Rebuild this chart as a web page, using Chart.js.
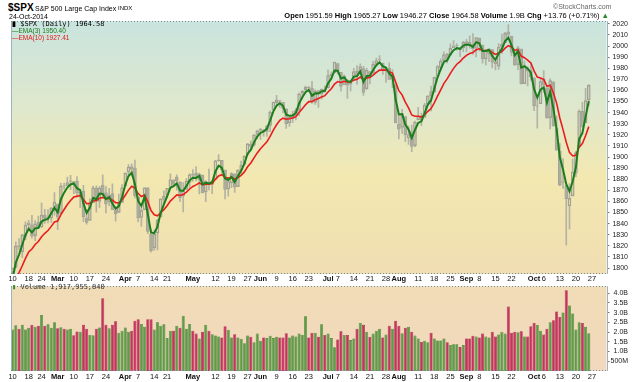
<!DOCTYPE html>
<html><head><meta charset="utf-8">
<script src="https://cdn.jsdelivr.net/npm/chart.js@4.4.0/dist/chart.umd.min.js"></script>
<style>
html,body{margin:0;padding:0;background:#fff;width:640px;height:382px;overflow:hidden;font-family:"Liberation Sans",Arial,sans-serif;}
#wrap{position:relative;width:640px;height:382px;}
canvas{position:absolute;left:0;}
.t{position:absolute;white-space:nowrap;line-height:1;}
.m{font-family:"DejaVu Sans Mono",monospace;}
</style></head><body>
<div id="wrap">
<canvas id="price" width="640" height="267" style="top:16px"></canvas>
<canvas id="vol" width="640" height="101" style="top:281px"></canvas>
<div class="t" style="left:8px;top:3px;font-size:10px;font-weight:bold;">$SPX</div>
<div class="t" style="left:35px;top:4.5px;font-size:7px;">S&amp;P 500 Large Cap Index</div>
<div class="t" style="left:118px;top:5px;font-size:6px;">INDX</div>
<div class="t" style="left:9px;top:12.5px;font-size:7px;">24-Oct-2014</div>
<div class="t" style="left:553px;top:3px;font-size:7px;color:#666;">&copy;StockCharts.com</div>
<div class="t" style="right:31px;top:12px;font-size:7.5px;"><b>Open</b> 1951.59 <b>High</b> 1965.27 <b>Low</b> 1946.27 <b>Close</b> 1964.58 <b>Volume</b> 1.9B <b>Chg</b> +13.76 (+0.71%) <span style="color:#2a8a2a">&#9650;</span></div>
<div class="t m" style="left:12px;top:20px;font-size:7px;color:#000;"><b style="font-family:'Liberation Sans'">&#9646;</b> $SPX (Daily) 1964.58</div>
<div class="t" style="left:12px;top:27.5px;font-size:6.5px;color:#1d7a1d;">&#8212;EMA(3) 1950.40</div>
<div class="t" style="left:12px;top:34.5px;font-size:6.5px;color:#e01818;">&#8212;EMA(10) 1927.41</div>
<div class="t m" style="left:12px;top:284px;font-size:7px;color:#333;"><span style="color:#3f8a2f">&#9646;</span> Volume 1,917,955,840</div>
</div>
<script>
// ---- DATA ----
const dates = ['Feb 10','Feb 11','Feb 12','Feb 13','Feb 14','Feb 18','Feb 19','Feb 20','Feb 21','Feb 24','Feb 25','Feb 26','Feb 27','Feb 28',
'Mar 3','Mar 4','Mar 5','Mar 6','Mar 7','Mar 10','Mar 11','Mar 12','Mar 13','Mar 14','Mar 17','Mar 18','Mar 19','Mar 20','Mar 21','Mar 24','Mar 25','Mar 26','Mar 27','Mar 28','Mar 31',
'Apr 1','Apr 2','Apr 3','Apr 4','Apr 7','Apr 8','Apr 9','Apr 10','Apr 11','Apr 14','Apr 15','Apr 16','Apr 17','Apr 21','Apr 22','Apr 23','Apr 24','Apr 25','Apr 28','Apr 29','Apr 30',
'May 1','May 2','May 5','May 6','May 7','May 8','May 9','May 12','May 13','May 14','May 15','May 16','May 19','May 20','May 21','May 22','May 23','May 27','May 28','May 29','May 30',
'Jun 2','Jun 3','Jun 4','Jun 5','Jun 6','Jun 9','Jun 10','Jun 11','Jun 12','Jun 13','Jun 16','Jun 17','Jun 18','Jun 19','Jun 20','Jun 23','Jun 24','Jun 25','Jun 26','Jun 27','Jun 30',
'Jul 1','Jul 2','Jul 3','Jul 7','Jul 8','Jul 9','Jul 10','Jul 11','Jul 14','Jul 15','Jul 16','Jul 17','Jul 18','Jul 21','Jul 22','Jul 23','Jul 24','Jul 25','Jul 28','Jul 29','Jul 30','Jul 31',
'Aug 1','Aug 4','Aug 5','Aug 6','Aug 7','Aug 8','Aug 11','Aug 12','Aug 13','Aug 14','Aug 15','Aug 18','Aug 19','Aug 20','Aug 21','Aug 22','Aug 25','Aug 26','Aug 27','Aug 28','Aug 29',
'Sep 2','Sep 3','Sep 4','Sep 5','Sep 8','Sep 9','Sep 10','Sep 11','Sep 12','Sep 15','Sep 16','Sep 17','Sep 18','Sep 19','Sep 22','Sep 23','Sep 24','Sep 25','Sep 26','Sep 29','Sep 30',
'Oct 1','Oct 2','Oct 3','Oct 6','Oct 7','Oct 8','Oct 9','Oct 10','Oct 13','Oct 14','Oct 15','Oct 16','Oct 17','Oct 20','Oct 21','Oct 22','Oct 23','Oct 24'];
const futureSlots = ['Oct 27','Oct 28','Oct 29','Oct 30','Oct 31'];

const tickDates = ['Feb 10','Feb 18','Feb 24','Mar 3','Mar 10','Mar 17','Mar 24','Apr 1','Apr 7','Apr 14','Apr 21','May 1','May 12','May 19','May 27','Jun 2','Jun 9','Jun 16','Jun 23','Jul 1','Jul 7','Jul 14','Jul 21','Jul 28','Aug 1','Aug 11','Aug 18','Aug 25','Sep 2','Sep 8','Sep 15','Sep 22','Oct 1','Oct 6','Oct 13','Oct 20','Oct 27'];
const tickTexts = ['10','18','24','Mar','10','17','24','Apr','7','14','21','May','12','19','27','Jun','9','16','23','Jul','7','14','21','28','Aug','11','18','25','Sep','8','15','22','Oct','6','13','20','27'];
const monthTicks = ['Mar','Apr','May','Jun','Jul','Aug','Sep','Oct'];

const open = [1796.20,1800.45,1820.12,1814.82,1828.46,1839.03,1838.90,1829.24,1841.07,1836.78,1847.66,1845.79,1844.90,1855.12,
1857.68,1849.23,1874.05,1874.18,1878.52,1877.86,1878.26,1866.15,1869.06,1845.07,1842.81,1858.92,1872.25,1860.09,1874.53,1867.67,1859.48,1867.09,1852.11,1850.07,1859.16,
1873.96,1886.61,1891.43,1890.25,1863.92,1845.48,1852.64,1872.28,1830.65,1818.18,1831.45,1846.01,1861.73,1865.79,1872.57,1879.32,1881.97,1877.72,1865.00,1870.78,1877.10,
1884.39,1885.30,1879.45,1883.69,1868.53,1877.39,1875.27,1880.03,1896.75,1897.13,1888.16,1871.19,1876.66,1884.88,1873.34,1888.19,1893.32,1902.01,1911.77,1910.60,1920.33,
1923.87,1923.07,1923.06,1928.52,1942.41,1948.97,1950.34,1949.37,1943.35,1930.80,1934.84,1937.15,1942.73,1957.50,1960.45,1962.92,1961.97,1949.27,1959.89,1956.56,1960.79,
1962.29,1973.06,1975.88,1984.22,1976.39,1965.10,1966.67,1965.76,1969.86,1977.36,1976.35,1979.75,1961.54,1976.93,1975.65,1984.06,1988.07,1984.60,1978.25,1980.03,1973.21,1965.14,
1929.80,1926.62,1936.34,1917.29,1923.03,1910.35,1933.43,1935.73,1935.60,1947.41,1958.87,1958.36,1972.73,1980.46,1986.82,1992.60,1991.74,1998.59,2000.54,1997.42,1998.45,
2004.07,2003.57,2001.67,1998.00,2007.17,2000.73,1988.41,1992.85,1996.74,1986.04,1981.93,1999.30,2003.07,2012.74,2009.08,1992.78,1983.34,1997.32,1966.22,1978.96,1978.21,
1971.44,1945.83,1948.12,1970.01,1962.36,1935.55,1967.68,1925.63,1905.65,1877.11,1874.18,1855.95,1864.91,1885.62,1909.38,1941.29,1931.02,1951.59];
const high = [1799.94,1823.54,1826.55,1830.25,1841.65,1842.87,1847.50,1842.79,1846.87,1858.71,1852.91,1852.65,1854.53,1867.92,
1857.68,1876.23,1876.53,1881.94,1883.57,1877.87,1882.35,1868.38,1874.40,1852.44,1862.30,1873.76,1874.14,1873.49,1883.97,1873.34,1871.87,1875.92,1855.55,1866.63,1875.18,
1885.84,1893.17,1893.80,1897.28,1864.04,1854.95,1872.43,1872.53,1835.07,1834.19,1844.02,1862.31,1869.63,1871.89,1884.89,1879.75,1884.06,1877.72,1877.01,1880.60,1885.20,
1888.59,1891.33,1885.51,1883.69,1878.83,1889.07,1878.57,1897.13,1902.17,1897.13,1888.16,1878.28,1886.00,1884.88,1888.80,1896.33,1901.26,1912.28,1914.46,1920.03,1924.03,
1925.88,1925.07,1928.63,1941.74,1949.44,1955.55,1950.86,1949.37,1943.35,1937.30,1941.15,1943.69,1957.74,1959.87,1963.91,1963.74,1968.17,1960.83,1959.89,1961.47,1964.24,
1978.58,1976.67,1985.59,1984.22,1976.39,1974.15,1969.84,1968.67,1979.85,1982.52,1983.94,1981.80,1979.91,1976.93,1986.24,1989.23,1991.39,1984.60,1981.52,1984.85,1978.90,1965.14,
1937.35,1942.92,1936.34,1927.91,1928.89,1932.38,1944.90,1939.65,1948.41,1955.23,1964.04,1971.99,1982.57,1988.57,1994.76,1993.54,2001.95,2005.04,2002.14,1998.55,2004.36,
2006.12,2009.28,2011.17,2007.71,2007.17,2001.01,1996.66,1997.65,1996.74,1987.18,2002.28,2010.74,2012.34,2019.26,2009.08,1995.41,1999.79,1997.32,1986.37,1981.28,1985.17,
1971.44,1952.32,1971.19,1977.84,1962.36,1970.36,1967.68,1936.98,1912.09,1898.71,1874.18,1876.01,1898.16,1905.03,1942.45,1949.31,1961.95,1965.27];
const low = [1791.83,1800.41,1815.97,1809.22,1825.59,1835.01,1826.99,1824.58,1835.60,1836.78,1840.19,1840.66,1841.13,1847.67,
1834.44,1849.23,1871.11,1874.18,1870.56,1867.04,1863.88,1854.38,1841.86,1839.57,1842.81,1858.92,1850.35,1854.63,1863.46,1849.69,1855.96,1852.56,1842.11,1850.07,1859.16,
1873.96,1883.79,1882.65,1863.26,1841.48,1837.49,1852.38,1830.87,1814.36,1815.80,1816.29,1846.01,1856.72,1863.18,1872.57,1873.91,1870.24,1859.70,1850.61,1870.78,1872.69,
1878.04,1878.50,1866.77,1867.72,1859.79,1870.05,1867.02,1880.03,1896.06,1885.77,1862.36,1864.82,1872.42,1868.14,1873.34,1885.39,1893.32,1902.01,1907.30,1909.82,1916.64,
1915.98,1918.79,1918.60,1922.93,1942.41,1947.16,1944.64,1940.08,1925.78,1927.69,1930.91,1933.55,1937.29,1952.26,1959.17,1958.89,1948.34,1947.49,1944.69,1952.18,1958.22,
1962.29,1972.58,1975.88,1974.88,1959.46,1965.10,1952.86,1959.63,1969.86,1965.34,1975.67,1955.59,1960.82,1965.77,1975.65,1982.44,1985.79,1974.37,1967.31,1969.95,1962.42,1930.67,
1916.37,1921.20,1913.77,1911.45,1904.78,1909.01,1933.43,1928.29,1935.60,1947.41,1941.50,1958.36,1972.73,1977.68,1986.82,1984.76,1991.74,1998.59,1996.20,1990.52,1994.85,
1994.85,1998.14,1992.54,1990.10,1995.60,1984.61,1982.99,1985.93,1980.26,1978.48,1979.06,1993.29,2003.07,2006.59,1991.01,1982.77,1978.63,1965.99,1966.22,1964.04,1968.96,
1941.72,1926.03,1948.12,1958.43,1935.10,1925.25,1927.56,1906.05,1874.14,1871.79,1820.66,1835.02,1864.91,1882.30,1909.38,1926.83,1931.02,1946.27];
const close = [1799.84,1819.75,1819.26,1829.83,1838.63,1840.76,1828.75,1839.78,1836.25,1847.61,1845.12,1845.16,1854.29,1859.45,
1845.73,1873.91,1873.81,1877.03,1878.04,1877.17,1867.63,1868.20,1846.34,1841.13,1858.83,1872.25,1860.77,1872.01,1866.52,1857.44,1865.62,1852.56,1849.04,1857.62,1872.34,
1885.52,1890.90,1888.77,1865.09,1845.04,1851.96,1872.18,1833.08,1815.69,1830.61,1842.98,1862.31,1864.85,1871.89,1879.55,1875.39,1878.61,1863.40,1869.43,1878.33,1883.95,
1883.68,1881.14,1884.66,1867.72,1878.21,1875.63,1878.48,1896.65,1897.45,1888.53,1870.85,1877.86,1885.08,1872.83,1888.03,1892.49,1900.53,1911.91,1909.78,1920.03,1923.57,
1924.97,1924.24,1927.88,1940.46,1949.44,1951.27,1950.79,1943.89,1930.11,1936.16,1937.78,1941.99,1956.98,1959.48,1962.87,1962.61,1949.98,1959.53,1957.22,1960.96,1960.23,
1973.32,1974.62,1985.44,1977.65,1963.71,1972.83,1964.68,1967.57,1977.10,1973.28,1981.57,1958.12,1978.22,1973.63,1983.53,1987.01,1987.98,1978.34,1978.91,1969.95,1970.07,1930.67,
1925.15,1938.99,1920.21,1920.24,1909.57,1931.59,1936.92,1933.75,1946.72,1955.18,1955.06,1971.74,1981.60,1986.51,1992.37,1988.40,1997.92,2000.02,2000.12,1996.74,2003.37,
2002.28,2000.72,1997.65,2007.71,2001.54,1988.44,1995.69,1997.45,1985.54,1984.13,1998.98,2001.57,2011.36,2010.40,1994.29,1982.77,1998.30,1965.99,1982.85,1977.80,1972.29,
1946.16,1946.17,1967.90,1964.82,1935.10,1968.89,1928.21,1906.13,1874.74,1877.70,1862.49,1862.76,1886.76,1904.01,1941.28,1927.11,1950.82,1964.58];
const prevClose0 = 1797.02; // close of the day before the first bar (colours the first volume bar)

const ema3 = [1790.3,1805.0,1812.1,1821.0,1829.8,1835.3,1832.0,1835.9,1836.1,1841.9,1843.5,1844.3,1849.3,1854.4,
1850.1,1862.0,1867.9,1872.5,1875.3,1876.2,1871.9,1870.1,1858.2,1849.7,1854.3,1863.3,1862.0,1867.0,1866.8,1862.1,1863.9,1858.2,1853.6,1855.6,1864.0,
1874.8,1882.9,1885.8,1875.4,1860.2,1856.1,1864.1,1848.6,1832.1,1831.4,1837.2,1849.8,1857.3,1864.6,1872.1,1873.7,1876.2,1869.8,1869.6,1874.0,1879.0,
1881.3,1881.2,1882.9,1875.3,1876.8,1876.2,1877.3,1887.0,1892.2,1890.4,1880.6,1879.2,1882.1,1877.5,1882.8,1887.6,1894.1,1903.0,1906.4,1913.2,1918.4,
1921.7,1923.0,1925.4,1932.9,1941.2,1946.2,1948.5,1946.2,1938.2,1937.2,1937.5,1939.7,1948.3,1953.9,1958.4,1960.5,1955.2,1957.4,1957.3,1959.1,1959.7,
1966.5,1970.6,1978.0,1977.8,1970.8,1971.8,1968.2,1967.9,1972.5,1972.9,1977.2,1967.7,1973.0,1973.3,1978.4,1982.7,1985.3,1981.8,1980.4,1975.2,1972.6,1951.6,
1938.4,1938.7,1929.5,1924.9,1917.2,1924.4,1930.7,1932.2,1939.5,1947.3,1951.2,1961.5,1971.6,1979.1,1985.7,1987.1,1992.5,1996.3,1998.2,1997.5,2000.4,
2001.3,2001.0,1999.3,2003.5,2002.5,1995.5,1995.6,1996.5,1991.0,1987.6,1993.3,1997.4,2004.4,2007.4,2000.8,1991.8,1995.1,1980.5,1981.7,1979.8,1976.0,
1961.1,1953.6,1960.8,1962.8,1949.0,1958.9,1943.6,1924.9,1899.8,1888.8,1875.6,1869.2,1878.0,1891.0,1916.1,1921.6,1936.2,1950.4];
const ema10 = [1784.1,1790.6,1795.8,1802.0,1808.7,1814.5,1817.1,1821.2,1823.9,1828.2,1831.3,1833.8,1837.5,1841.5,
1842.3,1848.1,1852.7,1857.2,1860.9,1863.9,1864.6,1865.2,1861.8,1858.0,1858.2,1860.7,1860.7,1862.8,1863.5,1862.4,1863.0,1861.1,1858.9,1858.7,1861.2,
1865.6,1870.2,1873.6,1872.0,1867.1,1864.4,1865.8,1859.8,1851.8,1848.0,1847.1,1849.8,1852.6,1856.1,1860.3,1863.1,1865.9,1865.4,1866.2,1868.4,1871.2,
1873.5,1874.9,1876.6,1875.0,1875.6,1875.6,1876.1,1879.9,1883.0,1884.1,1881.6,1881.0,1881.7,1880.1,1881.5,1883.5,1886.6,1891.2,1894.6,1899.2,1903.7,
1907.5,1910.6,1913.7,1918.6,1924.2,1929.1,1933.1,1935.0,1934.1,1934.5,1935.1,1936.4,1940.1,1943.6,1947.1,1949.9,1949.9,1951.7,1952.7,1954.2,1955.3,
1958.6,1961.5,1965.8,1968.0,1967.2,1968.2,1967.6,1967.6,1969.3,1970.0,1972.1,1969.6,1971.2,1971.6,1973.8,1976.2,1978.3,1978.3,1978.4,1976.9,1975.7,1967.5,
1959.8,1956.0,1949.5,1944.2,1937.9,1936.7,1936.7,1936.2,1938.1,1941.2,1943.7,1948.8,1954.8,1960.6,1966.4,1970.4,1975.4,1979.9,1983.6,1986.0,1989.2,
1991.6,1993.3,1994.1,1996.6,1997.5,1995.9,1995.9,1996.2,1994.3,1992.5,1993.7,1995.1,1998.1,2000.3,1999.2,1996.2,1996.6,1991.0,1989.5,1987.4,1984.7,
1977.7,1972.0,1971.2,1970.0,1963.7,1964.6,1958.0,1948.6,1935.2,1924.7,1913.4,1904.2,1901.0,1901.6,1908.8,1912.1,1919.2,1927.4];

// volume in billions of shares
const volume = [2.13,2.35,2.17,2.37,2.13,2.22,2.37,2.27,2.33,2.88,2.33,2.40,2.22,2.51,
2.20,2.25,2.17,2.13,2.17,1.84,2.03,2.02,2.37,2.17,1.85,1.84,2.17,2.23,3.74,2.37,2.20,2.37,2.55,1.97,2.07,
2.23,2.02,2.07,2.58,2.66,2.42,2.27,2.66,2.66,2.13,2.50,2.33,2.40,1.69,2.07,2.07,2.32,2.22,2.84,2.17,2.42,
2.07,1.92,1.67,2.02,2.37,2.07,1.89,1.82,1.77,1.72,2.30,2.12,1.72,1.89,1.72,1.66,1.43,1.82,1.76,1.48,1.92,
1.56,1.72,1.69,1.81,1.69,1.76,1.72,1.72,1.94,1.72,1.82,1.77,1.92,1.85,2.81,1.72,1.97,1.97,1.76,2.40,1.85,
1.92,1.69,1.22,1.62,2.04,1.85,1.85,1.59,1.67,2.17,2.47,2.37,2.02,1.76,1.92,2.07,2.17,1.72,1.87,2.33,2.17,2.58,
2.33,1.94,2.22,2.27,2.02,1.82,1.67,1.49,1.56,1.48,1.97,1.67,1.57,1.57,1.67,1.48,1.34,1.37,1.37,1.23,1.33,
1.67,1.67,1.81,1.77,1.72,1.92,1.77,1.72,2.02,1.77,1.87,2.02,1.92,3.31,1.97,2.02,1.99,2.04,1.77,1.77,2.30,
2.48,2.37,2.07,1.87,2.17,2.51,2.61,3.06,2.78,3.01,4.15,3.36,2.96,2.13,2.51,2.47,2.27,1.94];

const priceTicks = [1800,1810,1820,1830,1840,1850,1860,1870,1880,1890,1900,1910,1920,1930,1940,1950,1960,1970,1980,1990,2000,2010,2020];
const volumeTicks = [0.5,1.0,1.5,2.0,2.5,3.0,3.5,4.0];

// ---- CHART ----
Chart.defaults.font.family = "'Liberation Sans', Arial, sans-serif";
const labels = dates.concat(futureSlots);
const FONT = "'Liberation Sans', Arial, sans-serif";

function xTickText(scale, v) {
  const d = scale.getLabelForValue(v);
  const k = tickDates.indexOf(d);
  return k < 0 ? '' : tickTexts[k];
}

const panelPlugin = {
  id: 'panel',
  beforeDraw(chart, args, o) {
    const {ctx, chartArea: a} = chart;
    const g = ctx.createLinearGradient(0, a.top, 0, a.bottom);
    o.stops.forEach(s => g.addColorStop(s[0], s[1]));
    ctx.save();
    ctx.fillStyle = g;
    ctx.fillRect(a.left, a.top, a.right - a.left, a.bottom - a.top);
    ctx.restore();
  },
  afterDraw(chart, args, o) {
    const {ctx, chartArea: a} = chart;
    ctx.save();
    ctx.strokeStyle = '#9fb3bd';
    ctx.lineWidth = 1;
    ctx.beginPath();
    ctx.moveTo(Math.floor(a.left) + 0.5, a.top);
    ctx.lineTo(Math.floor(a.left) + 0.5, a.bottom);
    ctx.moveTo(Math.round(a.right) + 0.5, a.top);
    ctx.lineTo(Math.round(a.right) + 0.5, a.bottom);
    ctx.stroke();
    ctx.setLineDash([1, 2]);
    ctx.strokeStyle = '#6f8ea3';
    ctx.beginPath();
    ctx.moveTo(a.left, Math.round(a.top) + 0.5);
    ctx.lineTo(a.right, Math.round(a.top) + 0.5);
    ctx.moveTo(a.left, Math.round(a.bottom) - 0.5);
    ctx.lineTo(a.right, Math.round(a.bottom) - 0.5);
    ctx.stroke();
    ctx.restore();
  }
};

const CANDLE_EDGE = '#a2a294';
const CANDLE_FILL = '#adad9e';
const WICK = '#b3b3a4';

const bodyData = open.map((o, i) => [o, close[i]]);
const wickLoData = low.map((l, i) => [l, Math.min(open[i], close[i])]);
const wickHiData = high.map((h, i) => [Math.max(open[i], close[i]), h]);

new Chart(document.getElementById('price'), {
  type: 'bar',
  data: {
    labels: labels,
    datasets: [
      {type: 'line', label: 'EMA(3)', data: ema3, borderColor: '#1b7d1b', borderWidth: 2, pointRadius: 0, order: 0},
      {type: 'line', label: 'EMA(10)', data: ema10, borderColor: '#ea1c1c', borderWidth: 1.6, pointRadius: 0, order: 1},
      {label: 'body', data: bodyData, grouped: false, barThickness: 3, borderWidth: 0.8, borderSkipped: false,
       borderColor: CANDLE_EDGE,
       backgroundColor: bodyData.map(b => b[1] >= b[0] ? 'rgba(0,0,0,0)' : CANDLE_FILL), order: 5},
      {label: 'wickLo', data: wickLoData, grouped: false, barThickness: 1, backgroundColor: WICK, borderWidth: 0, order: 6},
      {label: 'wickHi', data: wickHiData, grouped: false, barThickness: 1, backgroundColor: WICK, borderWidth: 0, order: 6}
    ]
  },
  options: {
    responsive: false, animation: false, events: [],
    layout: {padding: {left: 11, right: 12, top: 4, bottom: 0}, autoPadding: false},
    plugins: {legend: {display: false}, tooltip: {enabled: false},
      panel: {stops: [[0, '#c9e4de'], [0.35, '#dfe8cc'], [0.62, '#f3e8b0'], [1, '#f0deb2']]}},
    scales: {
      x: {
        type: 'category', offset: true,
        grid: {display: false, drawTicks: false}, border: {display: false},
        ticks: {autoSkip: false, maxRotation: 0, padding: 0, color: '#111',
          font: ctx => ({family: FONT, size: 7.5, weight: (ctx.tick && monthTicks.includes(ctx.tick.label)) ? 'bold' : 'normal'}),
          callback: function (v) { return xTickText(this, v); }},
        afterFit: s => { s.height = 9; }
      },
      y: {
        position: 'right', min: 1794.6, max: 2022.4,
        afterBuildTicks: s => { s.ticks = priceTicks.map(v => ({value: v})); },
        grid: {drawOnChartArea: false, drawTicks: true, tickLength: 3, color: '#777'},
        border: {display: false},
        ticks: {autoSkip: false, crossAlign: 'far', padding: 1, color: '#222', font: {family: FONT, size: 7}, callback: v => String(v)},
        afterFit: s => { s.width = 21.5; }
      }
    }
  },
  plugins: [panelPlugin]
});

const volColors = close.map((c, i) => c >= (i === 0 ? prevClose0 : close[i - 1]) ? '#5d9c49' : '#c6335f');
const volEdges = close.map((c, i) => c >= (i === 0 ? prevClose0 : close[i - 1]) ? '#3e7d2f' : '#a11a45');

new Chart(document.getElementById('vol'), {
  type: 'bar',
  data: {
    labels: labels,
    datasets: [{label: 'Volume', data: volume, backgroundColor: volColors, borderColor: volEdges,
      borderWidth: 0.6, borderSkipped: 'bottom', barPercentage: 1, categoryPercentage: 0.94}]
  },
  options: {
    responsive: false, animation: false, events: [],
    layout: {padding: {left: 11, right: 12, top: 2, bottom: 0}, autoPadding: false},
    plugins: {legend: {display: false}, tooltip: {enabled: false},
      panel: {stops: [[0, '#f0dcb6'], [1, '#f2d8bd']]}},
    scales: {
      x: {
        type: 'category', offset: true,
        grid: {display: false, drawTicks: false}, border: {display: false},
        ticks: {autoSkip: false, maxRotation: 0, padding: 1, color: '#111',
          font: ctx => ({family: FONT, size: 7.5, weight: (ctx.tick && monthTicks.includes(ctx.tick.label)) ? 'bold' : 'normal'}),
          callback: function (v) { return xTickText(this, v); }},
        afterFit: s => { s.height = 11; }
      },
      y: {
        position: 'right', min: 0, max: 4.356,
        afterBuildTicks: s => { s.ticks = volumeTicks.map(v => ({value: v})); },
        grid: {drawOnChartArea: false, drawTicks: true, tickLength: 3, color: '#777'},
        border: {display: false},
        ticks: {autoSkip: false, crossAlign: 'far', padding: 1, color: '#222', font: {family: FONT, size: 7},
          callback: v => v < 1 ? Math.round(v * 1000) + 'M' : v.toFixed(1) + 'B'},
        afterFit: s => { s.width = 21.5; }
      }
    }
  },
  plugins: [panelPlugin]
});
</script>
</body></html>
